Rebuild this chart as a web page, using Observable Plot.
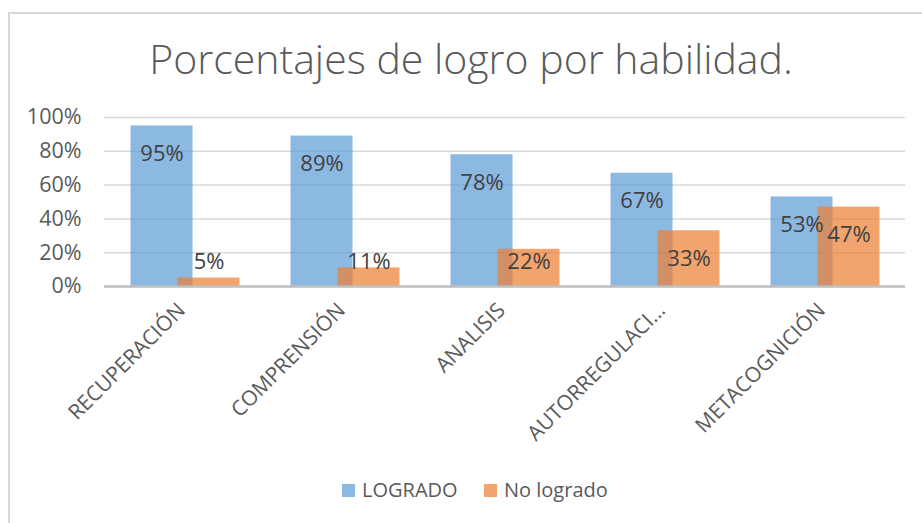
<!DOCTYPE html>
<html>
<head>
<meta charset="utf-8">
<script src="https://cdn.jsdelivr.net/npm/d3@7"></script>
<script src="https://cdn.jsdelivr.net/npm/@observablehq/plot@0.6"></script>
<style>
  html, body { margin: 0; padding: 0; background: #fff; }
  #wrap { position: relative; width: 922px; height: 523px; overflow: hidden; font-family: "Open Sans", sans-serif; }
  #frame { position: absolute; left: 8px; top: 12px; right: -4px; bottom: -4px; border-top: 2px solid #d9d9d9; border-left: 2px solid #d9d9d9; }
  #chart { position: absolute; left: 0; top: 0; }
  #title { position: absolute; left: 0; width: 942px; top: 38px; text-align: center; font-size: 41px; font-weight: 300; color: #595959; line-height: 1; white-space: nowrap; }
  .sw { position: absolute; width: 13px; height: 13px; }
  .lt { position: absolute; font-size: 20px; color: #595959; line-height: 1; white-space: nowrap; }
</style>
</head>
<body>
<div id="wrap">
  <div id="frame"></div>
  <div id="chart"></div>
  <div id="title">Porcentajes de logro por habilidad.</div>
  <div id="legend"></div>
</div>
<script>
const categories = ["RECUPERACIÓN", "COMPRENSIÓN", "ANALISIS", "AUTORREGULACI...", "METACOGNICIÓN"];
const logrado = [95, 89, 78, 67, 53];
const noLogrado = [5, 11, 22, 33, 47];
const yTicks = [0, 20, 40, 60, 80, 100];
const seriesNames = ["LOGRADO", "No logrado"];
const seriesColors = ["#5B9BD5", "#ED7D31"];

const dataL = categories.map((c, i) => ({cat: c, value: logrado[i]}));
const dataN = categories.map((c, i) => ({cat: c, value: noLogrado[i]}));

const chart = Plot.plot({
  width: 922,
  height: 470,
  marginTop: 117,
  marginBottom: 184,
  marginLeft: 104,
  marginRight: 17,
  style: {fontFamily: "Open Sans, sans-serif", fontSize: "20px", color: "#595959", background: "transparent"},
  x: {domain: categories, paddingInner: 0.613, paddingOuter: 0.3065, axis: null},
  y: {domain: [0, 100], axis: null},
  marks: [
    Plot.gridY(yTicks, {stroke: "#d9d9d9", strokeOpacity: 1, strokeWidth: 1.5}),
    Plot.axisY(yTicks, {tickSize: 0, tickPadding: 23, tickFormat: d => d + "%", fontSize: 21.5, label: null, fill: "#595959"}),
    Plot.barY(dataL, {x: "cat", y: "value", dx: -23.5, fill: seriesColors[0], fillOpacity: 0.7}),
    Plot.barY(dataN, {x: "cat", y: "value", dx: 23.5, fill: seriesColors[1], fillOpacity: 0.7}),
    Plot.ruleY([0], {stroke: "#bfbfbf", strokeWidth: 2.5}),
    Plot.text(dataL, {x: "cat", y: "value", dx: -23.5, dy: 28, text: d => d.value + "%", fill: "#404040", fontSize: 22}),
    Plot.text(dataN, {x: "cat", y: d => Math.max(d.value, 30.8), dx: 23.5, dy: 28, text: d => d.value + "%", fill: "#404040", fontSize: 22}),
    Plot.text(categories, {x: d => d, frameAnchor: "bottom", rotate: -45, textAnchor: "end", dx: 1, dy: 25, fontSize: 21, fill: "#595959"})
  ]
});
document.getElementById("chart").appendChild(chart);

const legend = document.getElementById("legend");
const swX = [342, 484];
const txX = [362, 504];
seriesNames.forEach((n, i) => {
  const s = document.createElement("div");
  s.className = "sw";
  s.style.left = swX[i] + "px";
  s.style.top = "484px";
  s.style.background = seriesColors[i];
  s.style.opacity = 0.7;
  legend.appendChild(s);
  const t = document.createElement("div");
  t.className = "lt";
  t.style.left = txX[i] + "px";
  t.style.top = "480px";
  t.textContent = n;
  legend.appendChild(t);
});
</script>
</body>
</html>
